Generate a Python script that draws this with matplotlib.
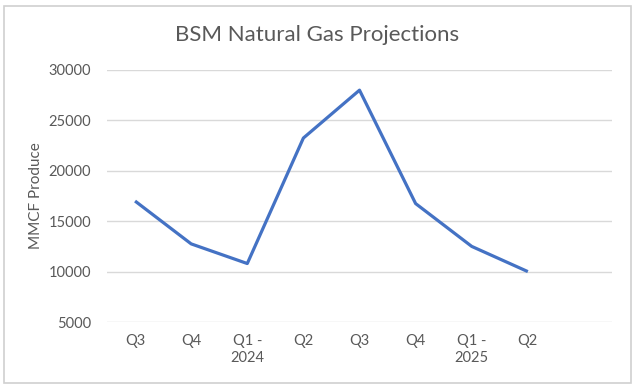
import matplotlib
matplotlib.use("Agg")
import matplotlib.pyplot as plt
from matplotlib.patches import Rectangle

categories = ["Q3", "Q4", "Q1 -\n2024", "Q2", "Q3", "Q4", "Q1 -\n2025", "Q2", ""]
values = [17000, 12750, 10800, 23250, 28000, 16750, 12500, 10000]
yticks = [5000, 10000, 15000, 20000, 25000, 30000]

plt.rcParams['font.family'] = ['Lato', 'DejaVu Sans']

fig = plt.figure(figsize=(6.4, 3.89), dpi=100)
fig.patch.set_facecolor('white')
# outer frame
fig.patches.append(Rectangle((4/640, 1-383/389), 627/640, 377/389, transform=fig.transFigure,
                             fill=False, edgecolor='#D0D0D0', linewidth=1.2))

ax = fig.add_axes([107/640, 1-322/389, 505/640, 252/389])
x = list(range(len(values)))
ax.plot(x, values, color='#4472C4', linewidth=2.3, solid_capstyle='butt', zorder=3)
ax.set_xlim(-0.5, len(categories) - 0.5)
ax.set_ylim(5000, 30000)
ax.set_yticks(yticks)
ax.set_yticklabels([str(v) for v in yticks])
ax.set_xticks(range(len(categories)))
ax.set_xticklabels(categories, linespacing=1.2)
ax.grid(axis='y', color='#D9D9D9', linewidth=1)
ax.set_axisbelow(True)
for s in ax.spines.values():
    s.set_visible(False)
ax.tick_params(axis='both', length=0, labelsize=10.5, colors='#595959')
ax.tick_params(axis='y', pad=11.5)
ax.tick_params(axis='x', pad=9)
ax.set_ylabel("MMCF Produce", fontsize=11, color='#595959', labelpad=4)
fig.text(317/640, 1-35/389, "BSM Natural Gas Projections", ha='center', va='center',
         fontsize=16, color='#595959')

fig.savefig("out.png", dpi=100, facecolor='white')
